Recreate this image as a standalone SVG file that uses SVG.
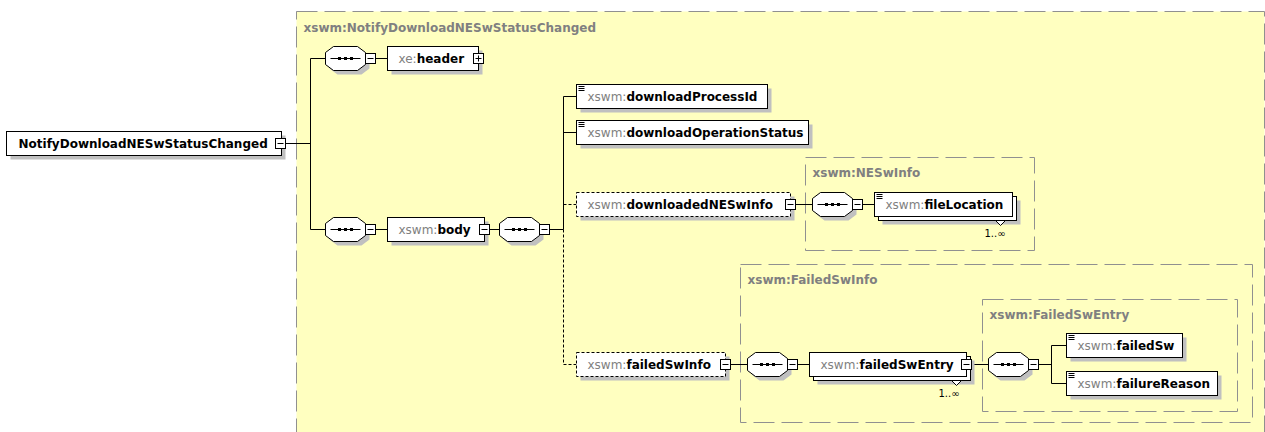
<svg xmlns="http://www.w3.org/2000/svg" width="1265" height="432" viewBox="0 0 1265 432">
<style>
.cont{fill:#ffffc0;stroke:#909090;stroke-dasharray:21 7}
.clabel{font-family:"DejaVu Sans",sans-serif;font-size:12px;font-weight:bold;fill:#808080}
.box{fill:#fff;stroke:#000}
.dbox{fill:#fff;stroke:#000;stroke-dasharray:3 2}
.sh{fill:#c0c0c0}
.t{font-family:"DejaVu Sans",sans-serif;font-size:12px;font-weight:bold;fill:#000}
.p{font-weight:normal;fill:#808080}
.ln{stroke:#000;fill:none}
.dl{stroke:#000;fill:none;stroke-dasharray:3 2}
.occ{font-family:"DejaVu Sans",sans-serif;font-size:10px;fill:#000}
</style>
<defs>
<g id="seq">
<polygon class="sh" points="12,4 36,4 44,10 44,22 36,28 12,28 4,22 4,10"/>
<polygon class="box" points="8,0 32,0 40,6 40,18 32,24 8,24 0,18 0,6"/>
<line x1="5" y1="12" x2="35" y2="12" stroke="#000"/>
<rect x="12.5" y="10.5" width="3" height="3" fill="#000"/>
<rect x="18.5" y="10.5" width="3" height="3" fill="#000"/>
<rect x="24.5" y="10.5" width="3" height="3" fill="#000"/>
</g>
<g id="minus"><rect class="box" x="0" y="0" width="10" height="10"/><line x1="2" y1="5" x2="8" y2="5" stroke="#000"/></g>
<g id="plus"><rect class="box" x="0" y="0" width="10" height="10"/><line x1="2" y1="5" x2="8" y2="5" stroke="#000"/><line x1="5" y1="2" x2="5" y2="8" stroke="#000"/></g>
<path id="el" d="M2 2H8M2 4H8M2 6H8" stroke="#000" fill="none"/>
</defs>
<rect x="0" y="0" width="1265" height="432" fill="#fff"/>
<g transform="translate(0.5,0.5)">
<g id="containers">
<rect class="cont" x="296" y="11" width="968" height="450"/>
<text class="clabel" x="303" y="31">xswm:NotifyDownloadNESwStatusChanged</text>
<rect class="cont" x="805" y="157" width="229" height="93"/>
<text class="clabel" x="812" y="176">xswm:NESwInfo</text>
<rect class="cont" x="740" y="264" width="512" height="158"/>
<text class="clabel" x="747" y="283">xswm:FailedSwInfo</text>
<rect class="cont" x="982" y="299" width="255" height="112"/>
<text class="clabel" x="989" y="318">xswm:FailedSwEntry</text>
</g>
<g id="connectors">
<path class="ln" d="M285 143H310M310 58V229M310 58H325M310 229H325"/>
<path class="ln" d="M375 58H387M375 229H387M489 229H499M549 229H563"/>
<path class="ln" d="M563 96V229M563 96H576M563 132H576"/>
<path class="dl" d="M563 229V364H576M563 204H576"/>
<path class="ln" d="M795 204H812M862 204H874"/>
<path class="ln" d="M730 364H747M797 364H809M971 364H988M1038 364H1051M1051 345V383M1051 345H1066M1051 383H1066"/>
</g>
<g id="root">
<rect class="sh" x="10" y="135" width="275" height="24"/>
<rect class="box" x="6" y="131" width="275" height="24"/>
<text class="t" x="18" y="147">NotifyDownloadNESwStatusChanged</text>
<use href="#minus" x="275" y="138"/>
</g>
<g id="seq-header"><use href="#seq" x="325" y="46"/><use href="#minus" x="365" y="53"/></g>
<g id="header">
<rect class="sh" x="391" y="50" width="91" height="24"/>
<rect class="box" x="387" y="46" width="91" height="24"/>
<text class="t" x="398" y="62"><tspan class="p">xe:</tspan>header</text>
<use href="#plus" x="473" y="53"/>
</g>
<g id="seq-body"><use href="#seq" x="325" y="217"/><use href="#minus" x="365" y="224"/></g>
<g id="body">
<rect class="sh" x="391" y="221" width="97" height="24"/>
<rect class="box" x="387" y="217" width="97" height="24"/>
<text class="t" x="398" y="233"><tspan class="p">xswm:</tspan>body</text>
<use href="#minus" x="479" y="224"/>
</g>
<g id="seq-body-content"><use href="#seq" x="499" y="217"/><use href="#minus" x="539" y="224"/></g>
<g id="downloadProcessId">
<rect class="sh" x="580" y="88" width="191" height="24"/>
<rect class="box" x="576" y="84" width="191" height="24"/>
<use href="#el" x="576" y="84"/>
<text class="t" x="587" y="100"><tspan class="p">xswm:</tspan>downloadProcessId</text>
</g>
<g id="downloadOperationStatus">
<rect class="sh" x="580" y="124" width="232" height="24"/>
<rect class="box" x="576" y="120" width="232" height="24"/>
<use href="#el" x="576" y="120"/>
<text class="t" x="587" y="136"><tspan class="p">xswm:</tspan>downloadOperationStatus</text>
</g>
<g id="downloadedNESwInfo">
<rect class="sh" x="580" y="196" width="214" height="24"/>
<rect class="dbox" x="576" y="192" width="214" height="24"/>
<text class="t" x="587" y="208"><tspan class="p">xswm:</tspan>downloadedNESwInfo</text>
<use href="#minus" x="785" y="199"/>
</g>
<g id="seq-neswinfo"><use href="#seq" x="812" y="192"/><use href="#minus" x="852" y="199"/></g>
<g id="fileLocation">
<rect class="sh" x="882" y="200" width="138" height="24"/>
<rect class="box" x="878" y="196" width="138" height="24"/>
<rect class="box" x="874" y="192" width="138" height="24"/>
<use href="#el" x="874" y="192"/>
<text class="t" x="885" y="208"><tspan class="p">xswm:</tspan>fileLocation</text>
<polygon class="box" points="995,220 1005,220 1000,225"/>
<text class="occ" x="984" y="236">1..∞</text>
</g>
<g id="failedSwInfo">
<rect class="sh" x="580" y="356" width="149" height="24"/>
<rect class="dbox" x="576" y="352" width="149" height="24"/>
<text class="t" x="587" y="368"><tspan class="p">xswm:</tspan>failedSwInfo</text>
<use href="#minus" x="720" y="359"/>
</g>
<g id="seq-failedswinfo"><use href="#seq" x="747" y="352"/><use href="#minus" x="787" y="359"/></g>
<g id="failedSwEntry">
<rect class="sh" x="817" y="360" width="157" height="24"/>
<rect class="box" x="813" y="356" width="157" height="24"/>
<rect class="box" x="809" y="352" width="157" height="24"/>
<text class="t" x="820" y="368"><tspan class="p">xswm:</tspan>failedSwEntry</text>
<use href="#minus" x="961" y="359"/>
<polygon class="box" points="951,380 961,380 956,385"/>
<text class="occ" x="938" y="396">1..∞</text>
</g>
<g id="seq-failedswentry"><use href="#seq" x="988" y="352"/><use href="#minus" x="1028" y="359"/></g>
<g id="failedSw">
<rect class="sh" x="1070" y="337" width="116" height="24"/>
<rect class="box" x="1066" y="333" width="116" height="24"/>
<use href="#el" x="1066" y="333"/>
<text class="t" x="1077" y="349"><tspan class="p">xswm:</tspan>failedSw</text>
</g>
<g id="failureReason">
<rect class="sh" x="1070" y="375" width="151" height="24"/>
<rect class="box" x="1066" y="371" width="151" height="24"/>
<use href="#el" x="1066" y="371"/>
<text class="t" x="1077" y="387"><tspan class="p">xswm:</tspan>failureReason</text>
</g>
</g>
</svg>
